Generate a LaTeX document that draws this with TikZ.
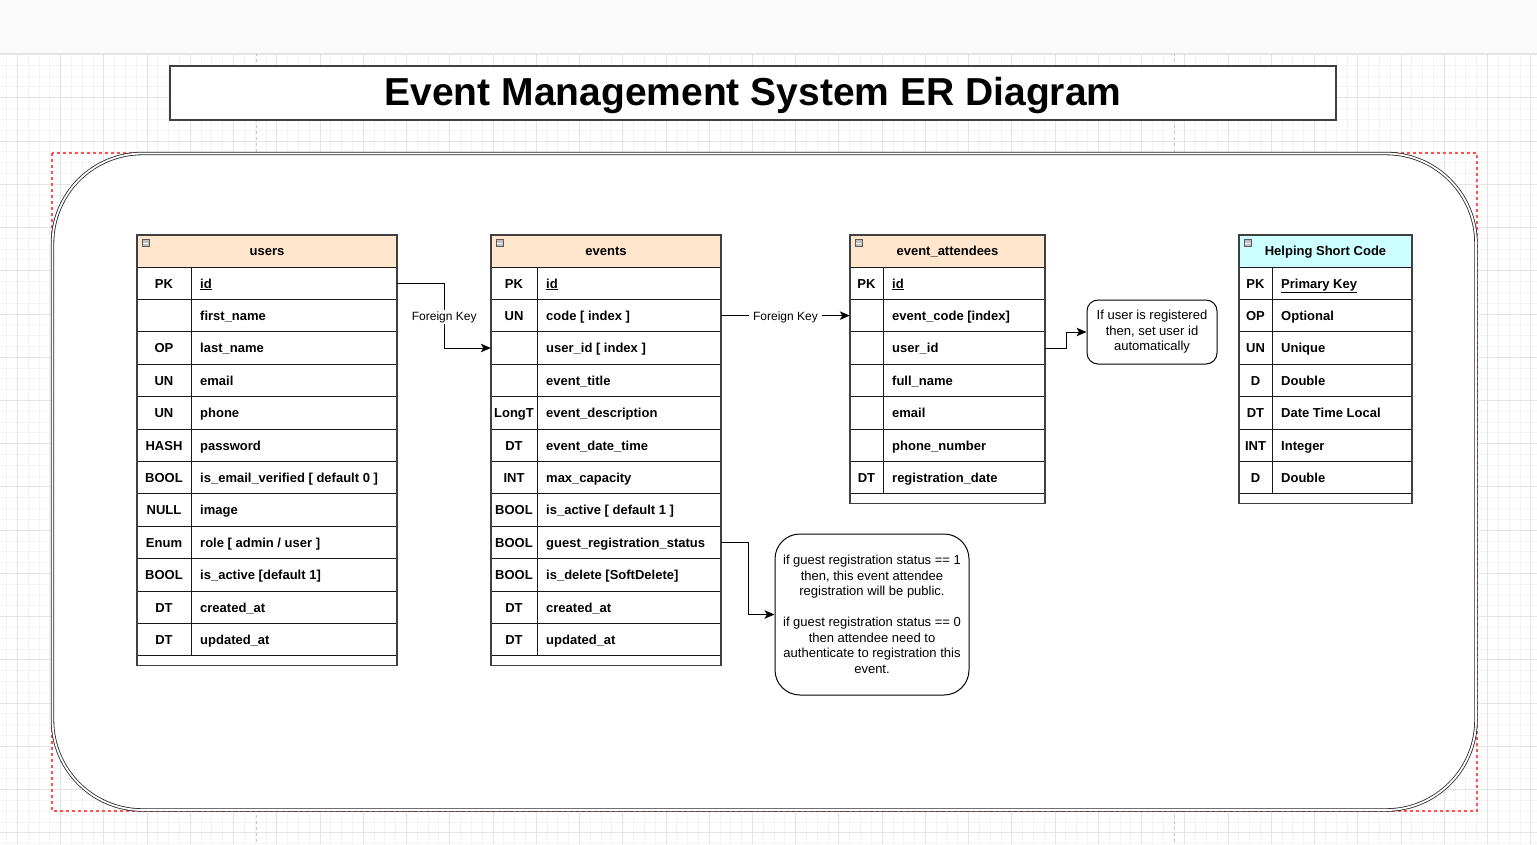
\documentclass[tikz,border=0pt]{standalone}
\usepackage{fontspec}
\setmainfont{Liberation Sans}
\usetikzlibrary{arrows.meta}
\definecolor{peach}{HTML}{FFE6CC}
\definecolor{cyanh}{HTML}{CCFFFF}
\definecolor{gridminor}{HTML}{F4F4F4}
\definecolor{gridmajor}{HTML}{E4E4E4}
\definecolor{topbar}{HTML}{FAFAFA}
\definecolor{pagebrk}{HTML}{C8C8C8}
\definecolor{reddash}{HTML}{FF5050}
\newcommand\tfs{\fontsize{13}{15.6}\selectfont}
\newcommand\tframe[7]{%
  \pgfmathsetmacro\tb{267+#4*32.4+10}%
  \pgfmathsetmacro\tl{267+#4*32.4}%
  \fill[white] (#1,235) rectangle (#3,\tb);
  \fill[#5] (#1,235) rectangle (#3,267);
  \foreach \j in {0,...,#4}{\draw[rowline] (#1,{267+\j*32.4}) -- (#3,{267+\j*32.4});}
  \draw[rowline] (#2,267) -- (#2,\tl);
  \draw[tblborder] (#1,235) rectangle (#3,\tb);
  \node[hdrtxt] (#6) at ({(#1+#3)/2},255.8) {#7};
  \draw[fill=gray!50, draw=gray!70!black, line width=0.6pt] ({#1+5},239.5) rectangle ({#1+12.5},246.5);
  \draw[white, line width=0.8pt] ({#1+6.3},243) -- ({#1+11.2},243);
}
\newcommand\trows[5]{%
  \foreach \k/\f [count=\i] in {#5}{%
    \pgfmathsetmacro\yc{267+(\i-0.5)*32.4}%
    \node[rowcell, minimum width={(#4-#2)*1pt}] (#1\i) at ({(#2+#4)/2},\yc) {};
    \node[keytxt] (#1k\i) at ({(#2+#3)/2},{\yc+4.8}) {\k};
    \node[fieldtxt] (#1f\i) at ({#3+9},{\yc+4.8}) {\f};
  }}
\begin{document}
\begin{tikzpicture}[x=1pt,y=-1pt,
  rowline/.style={draw=black!90, line width=1pt},
  tblborder/.style={draw=black!75, line width=1.2pt},
  hdrtxt/.style={font=\tfs\bfseries, anchor=base, inner sep=0pt},
  keytxt/.style={font=\tfs\bfseries, anchor=base, inner sep=0pt},
  fieldtxt/.style={font=\tfs\bfseries, anchor=base west, inner sep=0pt},
  rowcell/.style={draw=none, inner sep=0pt, minimum height=32.4pt},
  conn/.style={draw=black, line width=1pt, -{Stealth[length=10pt,width=8.5pt,inset=2.5pt]}},
  fklabel/.style={fill=white, font=\fontsize{12}{14}\selectfont, inner xsep=4pt, inner ysep=1.5pt, yshift=-1.5pt},
  note/.style={draw=black, line width=1pt, fill=white, align=center, font=\fontsize{13}{15.5}\selectfont, inner sep=2pt}
]
\useasboundingbox (0,0) rectangle (1537,844);
% background
\fill[white] (0,0) rectangle (1537,844);
\foreach \i in {0,...,142}{\draw[gridminor, line width=0.8pt] ({6.49+\i*10.81},53) -- ({6.49+\i*10.81},844);}
\foreach \i in {0,...,73}{\draw[gridminor, line width=0.8pt] (0,{54.46+\i*10.81}) -- (1537,{54.46+\i*10.81});}
\foreach \i in {0,...,35}{\draw[gridmajor, line width=0.8pt] ({17.3+\i*43.24},53) -- ({17.3+\i*43.24},844);}
\foreach \i in {0,...,18}{\draw[gridmajor, line width=0.8pt] (0,{54.46+\i*43.24}) -- (1537,{54.46+\i*43.24});}
\draw[pagebrk, dashed, line width=0.8pt] (256,53) -- (256,844);
\draw[pagebrk, dashed, line width=0.8pt] (1174,53) -- (1174,844);
\fill[topbar] (0,0) rectangle (1537,53);
\draw[gridmajor, line width=1pt] (0,53) -- (1537,53);
% container
\draw[reddash, dash pattern=on 3pt off 3pt, line width=1.2pt] (52,153) rectangle (1477,811);
\draw[draw=black!85, double=white, double distance=1.8pt, line width=0.8pt, fill=white, rounded corners=90pt] (52.5,153.5) rectangle (1476,810);
% title
\node[draw=black!75, line width=1.4pt, fill=white, minimum width=1166pt, minimum height=54pt, inner sep=0pt] (title) at (753,93) {};
\node[anchor=base, inner sep=0pt, font=\fontsize{39}{44}\selectfont\bfseries] (titletext) at (753,105) {Event Management System ER Diagram};
% tables
\tframe{137}{191}{397}{12}{peach}{users}{users}
\trows{u}{137}{191}{397}{PK/\underline{id}, {}/first\_name, OP/last\_name, UN/email, UN/phone, HASH/password, BOOL/{is\_email\_verified [ default 0 ]}, NULL/image, Enum/{role [ admin / user ]}, BOOL/{is\_active [default 1]}, DT/created\_at, DT/updated\_at}
\tframe{491}{537}{721}{12}{peach}{events}{events}
\trows{e}{491}{537}{721}{PK/\underline{id}, UN/{code [ index ]}, {}/{user\_id [ index ]}, {}/event\_title, LongT/event\_description, DT/event\_date\_time, INT/max\_capacity, BOOL/{is\_active [ default 1 ]}, BOOL/guest\_registration\_status, BOOL/{is\_delete [SoftDelete]}, DT/created\_at, DT/updated\_at}
\tframe{850}{883}{1045}{7}{peach}{attendees}{event\_attendees}
\trows{a}{850}{883}{1045}{PK/\underline{id}, {}/{event\_code [index]}, {}/user\_id, {}/full\_name, {}/email, {}/phone\_number, DT/registration\_date}
\tframe{1239}{1272}{1412}{7}{cyanh}{helper}{Helping Short Code}
\trows{h}{1239}{1272}{1412}{PK/\underline{Primary Key}, OP/Optional, UN/Unique, D/Double, DT/{Date Time Local}, INT/Integer, D/Double}
% notes
\node[note, rounded corners=11pt, minimum width=130pt, minimum height=64pt] (note1) at (1152,332) {If user is registered\\then, set user id\\automatically};
\node[note, rounded corners=25pt, minimum width=194pt, minimum height=161pt] (note2) at (872,614.5) {if guest registration status == 1\\then, this event attendee\\registration will be public.\\[15.5pt]if guest registration status == 0\\then attendee need to\\authenticate to registration this\\event.};
% connectors
\draw[conn] (u1.east) -- ++(47,0) |- (e3.west) node[pos=0.25, fklabel] (fk1) {Foreign Key};
\draw[conn] (e2.east) -- (a2.west) node[midway, fklabel] (fk2) {Foreign Key};
\draw[conn] (a3.east) -- ++(21,0) |- (note1.west);
\draw[conn] (e9.east) -- ++(27,0) |- (note2.west);
\end{tikzpicture}
\end{document}
